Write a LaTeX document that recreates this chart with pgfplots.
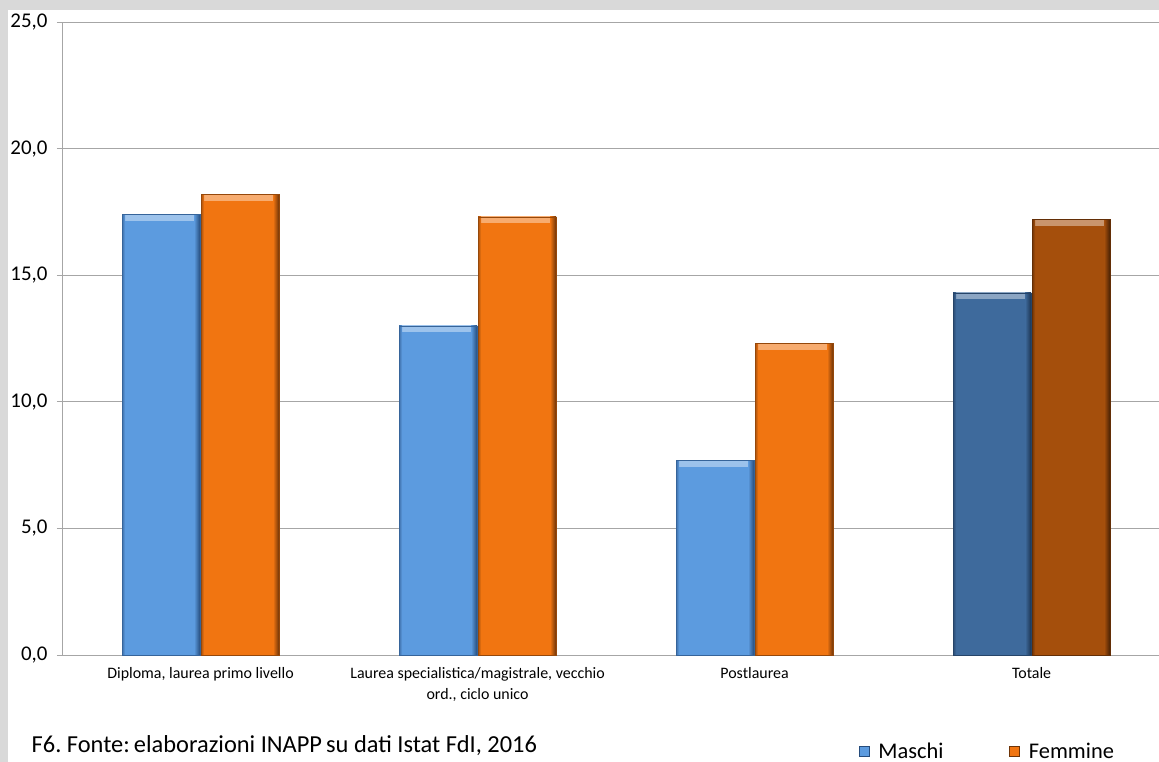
\documentclass[border=0pt]{standalone}
\usepackage{fontspec}
\setmainfont{Carlito}
\usepackage{pgfplots}
\pgfplotsset{compat=1.18}
\frenchspacing

\definecolor{frame}{RGB}{217,217,217}
\definecolor{gridgray}{RGB}{166,166,166}
\definecolor{mblue}{RGB}{92,155,223}
\definecolor{mbluedk}{RGB}{38,76,124}
\definecolor{forange}{RGB}{241,117,17}
\definecolor{forangedk}{RGB}{110,52,8}
\definecolor{tblue}{RGB}{62,106,156}
\definecolor{tbluedk}{RGB}{28,52,82}
\definecolor{tbrown}{RGB}{165,79,12}
\definecolor{tbrowndk}{RGB}{70,32,4}

% bevelled bar: flat face, lighter top rim, dark shadow on the right
\tikzset{
  rim/.style={path picture={}, draw=none},
  bevel/.style 2 args={
    fill=#1, draw=#2!70!#1, line width=0.5bp,
    path picture={
      \fill[rim, top color=#1!60!white, bottom color=#1!90!white]
        ([xshift=3bp]path picture bounding box.north west) --
        ([xshift=-6bp]path picture bounding box.north east) --
        ([xshift=-6bp,yshift=-6bp]path picture bounding box.north east) --
        ([xshift=3bp,yshift=-6bp]path picture bounding box.north west) -- cycle;
      \fill[rim, left color=#1, right color=#2]
        ([xshift=-6bp]path picture bounding box.north east) rectangle
        (path picture bounding box.south east);
      \fill[rim, left color=#2!55!#1, right color=#1]
        (path picture bounding box.north west) rectangle
        ([xshift=3bp]path picture bounding box.south west);
    }
  },
  sq/.style 2 args={fill=#1, draw=#2, line width=0.5bp, path picture={}}
}

\begin{document}
\begin{tikzpicture}
\useasboundingbox (0,0) rectangle (1159bp,762bp);
\fill[white] (0,0) rectangle (1159bp,762bp);
\fill[frame] (0,752bp) rectangle (1159bp,762bp);
\fill[frame] (0,0) rectangle (8bp,762bp);

\begin{axis}[
  at={(62bp,107bp)}, anchor=south west,
  scale only axis, width=1097bp, height=633bp,
  xmin=-0.5, xmax=3.46, ymin=0, ymax=25,
  ytick={0,5,...,25},
  xtick={0,1,2,3},
  xticklabels={{Diploma, laurea primo livello},
               {Laurea specialistica/magistrale, vecchio\\ord., ciclo unico},
               {Postlaurea},{Totale}},
  xticklabel style={align=center, font=\fontsize{16}{21}\selectfont, yshift=-4bp},
  yticklabel style={font=\fontsize{21}{24}\selectfont, xshift=-6bp},
  /pgf/number format/.cd, fixed, fixed zerofill, precision=1, use comma, assume math mode=true,
  /pgfplots/.cd,
  axis y line*=left, axis x line*=bottom,
  axis line style={draw=gridgray, line width=0.9bp},
  ymajorgrids, major grid style={draw=gridgray, line width=0.9bp},
  tick align=outside, major tick length=5bp,
  ytick style={draw=gridgray, line width=0.9bp},
  xtick style={draw=none},
  ybar, bar width=78bp,
  legend columns=2,
  legend style={draw=none, fill=none, at={(0.7235,-0.152)}, anchor=west,
    font=\fontsize{22.5}{24}\selectfont,
    /tikz/every even column/.append style={column sep=64bp}},
]
% Maschi
\addplot[bevel={mblue}{mbluedk}, bar shift=-39.5bp,
  legend image code/.code={\fill[sq={mblue}{mbluedk}] (0bp,-5bp) rectangle (10bp,5bp); \path (17bp,0bp);}]
  coordinates {(0,17.4)};
\addlegendentry{Maschi}
% Femmine
\addplot[bevel={forange}{forangedk}, bar shift=39.5bp,
  legend image code/.code={\fill[sq={forange}{forangedk}] (0bp,-5bp) rectangle (10bp,5bp); \path (17bp,0bp);}]
  coordinates {(0,18.2)};
\addlegendentry{Femmine}
\addplot[bevel={mblue}{mbluedk}, bar shift=-39.5bp, forget plot] coordinates {(1,13.0)};
\addplot[bevel={forange}{forangedk}, bar shift=39.5bp, forget plot] coordinates {(1,17.3)};
\addplot[bevel={mblue}{mbluedk}, bar shift=-39.5bp, forget plot] coordinates {(2,7.7)};
\addplot[bevel={forange}{forangedk}, bar shift=39.5bp, forget plot] coordinates {(2,12.3)};
% Totale
\addplot[bevel={tblue}{tbluedk}, bar shift=-39.5bp, forget plot] coordinates {(3,14.3)};
\addplot[bevel={tbrown}{tbrowndk}, bar shift=39.5bp, forget plot] coordinates {(3,17.2)};
\end{axis}

\node[anchor=base west, inner sep=0pt, font=\fontsize{24.5}{28}\selectfont]
  at (31.5bp,10bp) {F6. Fonte:\,elaborazioni INAPP\,su dati Istat FdI, 2016};
\end{tikzpicture}
\end{document}
